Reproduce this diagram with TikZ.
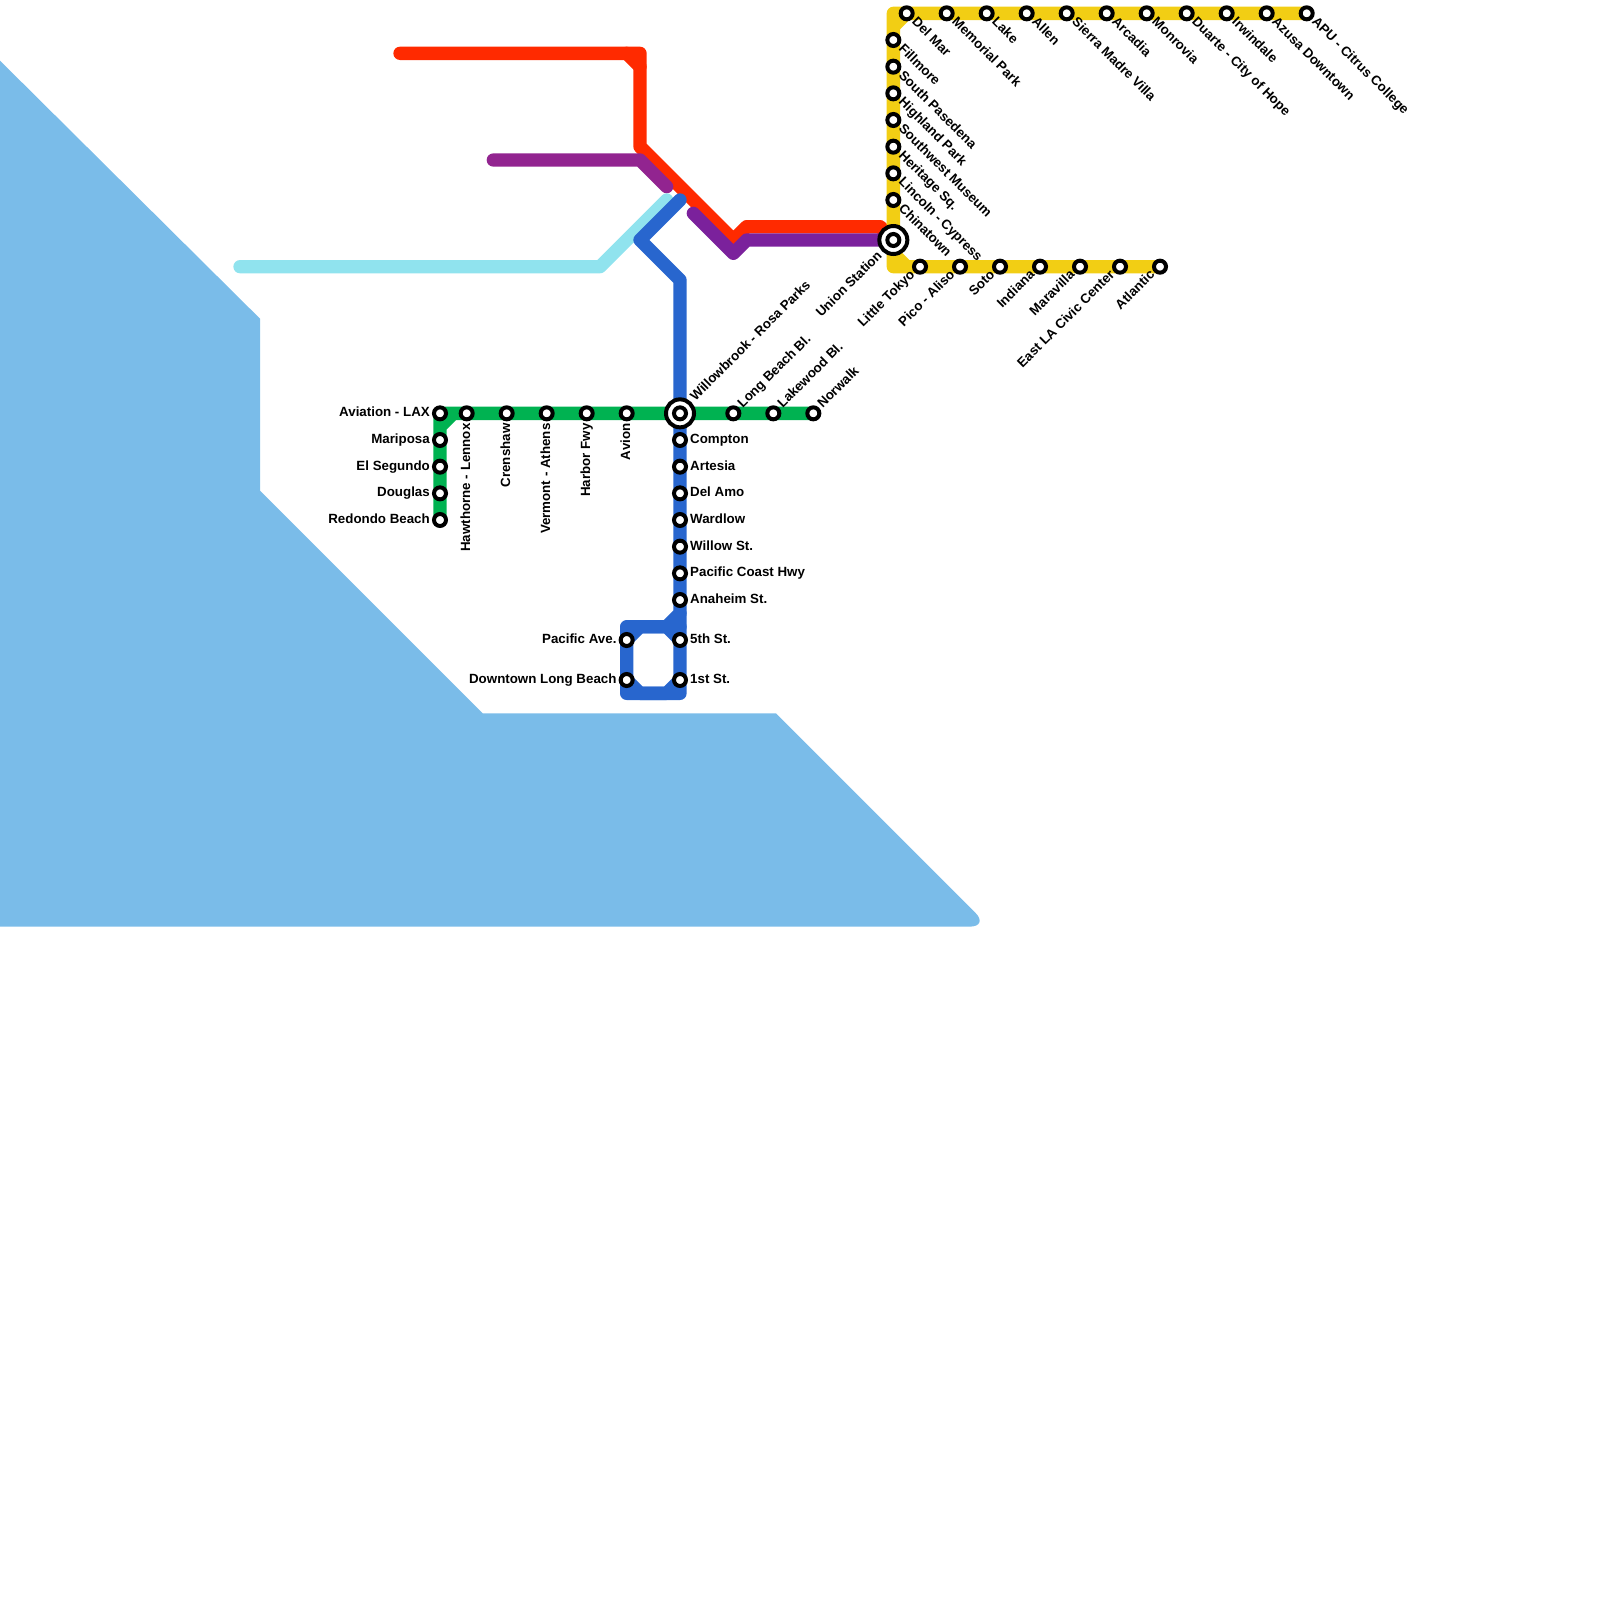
\documentclass[tikz,border=0pt]{standalone}
\usepackage{fontspec}
\setmainfont{Liberation Sans}
\usetikzlibrary{calc,positioning}
\definecolor{water}{HTML}{7ABCE9}
\definecolor{lineRed}{HTML}{FF2A00}
\definecolor{linePurpleA}{HTML}{922490}
\definecolor{linePurpleB}{HTML}{7B219C}
\definecolor{lineCyan}{HTML}{90E3EE}
\definecolor{lineBlue}{HTML}{2866CE}
\definecolor{lineGreen}{HTML}{00B251}
\definecolor{lineYellow}{HTML}{F2CE14}
\tikzset{
  metro/.style={line width=13.33pt,line join=round,line cap=round},
  stn/.style={circle,draw=black,fill=white,line width=4pt,minimum size=12pt,inner sep=0pt},
  hub/.style={circle,draw=black,fill=white,line width=4pt,minimum size=28pt,inner sep=0pt},
  lab/.style={font=\fontsize{13.33}{13.33}\selectfont\bfseries,inner sep=0pt,text=black,text height=9.6pt,text depth=2.8pt}
}
\begin{document}
\begin{tikzpicture}[x=13.3333pt,y=-13.3333pt]
\useasboundingbox (0,0) rectangle (120,120);
% --- water
\fill[water] (0,4.55) -- (19.5,23.9) -- (19.5,36.8) -- (36.2,53.5) -- (58.2,53.5) [rounded corners=20pt] -- (74.2,69.5) [sharp corners] -- (0,69.5) -- cycle;
% --- lines
\draw[metro,lineRed] (30,4) -- (48,4) -- (48,11) -- (55,18) -- (56,17) -- (66,17) -- (67,18);
\draw[metro,lineRed] (47,4) -- (48,5);
\draw[metro,linePurpleA] (37,12) -- (48,12) -- (50,14);
\draw[metro,linePurpleB] (52,16) -- (55,19) -- (56,18) -- (67,18);
\draw[metro,lineCyan] (18,20) -- (45,20) -- (50,15);
\draw[metro,lineBlue] (51,15) -- (48,18) -- (51,21) -- (51,46) -- (50,47) -- (47,47) -- (47,52) -- (51,52) -- (51,47);
\draw[metro,lineBlue] (47,48) -- (48,47) -- (50,47) -- (51,48) (47,51) -- (48,52) -- (50,52) -- (51,51) (51,46) -- (51,47);
\draw[metro,lineGreen] (61,31) -- (33,31) -- (33,39) (33,32) -- (34,31);
\draw[metro,lineYellow] (98,1) -- (67,1) -- (67,20) -- (87,20) (67,2) -- (68,1) (67,19) -- (68,20);
% --- stations
\foreach \x/\t in {68/Del Mar,71/Memorial Park,74/Lake,77/Allen,80/Sierra Madre Villa,83/Arcadia,86/Monrovia,89/Duarte - City of Hope,92/Irwindale,95/Azusa Downtown,98/APU - Citrus College} {
  \node[stn] (gold\x) at (\x,1) {};
  \node[lab,rotate=-45,anchor=west] (goldlab\x) at ($(gold\x)+(7pt,-7pt)$) {\t};
}
\foreach \y/\t in {3/Fillmore,5/South Pasedena,7/Highland Park,9/Southwest Museum,11/Heritage Sq.,13/Lincoln - Cypress,15/Chinatown} {
  \node[stn] (north\y) at (67,\y) {};
  \node[lab,rotate=-45,anchor=west] (northlab\y) at ($(north\y)+(7pt,-7pt)$) {\t};
}
\foreach \x/\t in {69/Little Tokyo,72/Pico - Aliso,75/Soto,78/Indiana,81/Maravilla,84/East LA Civic Center,87/Atlantic} {
  \node[stn] (east\x) at (\x,20) {};
  \node[lab,rotate=45,anchor=east] (eastlab\x) at ($(east\x)+(-7pt,-6.5pt)$) {\t};
}
\foreach \x/\t in {55/Long Beach Bl.,58/Lakewood Bl.,61/Norwalk} {
  \node[stn] (expo\x) at (\x,31) {};
  \node[lab,rotate=45,anchor=west] (expolab\x) at ($(expo\x)+(7pt,7pt)$) {\t};
}
\foreach \x/\t in {35/Hawthorne - Lennox,38/Crenshaw,41/Vermont - Athens,44/Harbor Fwy,47/Avion} {
  \node[stn] (west\x) at (\x,31) {};
  \node[lab,rotate=90,anchor=east] (westlab\x) at ($(west\x)+(0pt,-10pt)$) {\t};
}
\foreach \y/\t in {31/Aviation - LAX,33/Mariposa,35/El Segundo,37/Douglas,39/Redondo Beach} {
  \node[stn] (south\y) at (33,\y) {};
  \node[lab,anchor=east] (southlab\y) at ($(south\y)+(-10pt,0pt)$) {\t};
}
\foreach \y/\t in {33/Compton,35/Artesia,37/Del Amo,39/Wardlow,41/Willow St.,43/Pacific Coast Hwy,45/Anaheim St.,48/5th St.,51/1st St.} {
  \node[stn] (blue\y) at (51,\y) {};
  \node[lab,anchor=west] (bluelab\y) at ($(blue\y)+(10pt,0pt)$) {\t};
}
\node[stn] (pacific) at (47,48) {};
\node[lab,anchor=east] (pacificlab) at ($(pacific)+(-10pt,0pt)$) {Pacific Ave.};
\node[stn] (downtown) at (47,51) {};
\node[lab,anchor=east] (downtownlab) at ($(downtown)+(-10pt,0pt)$) {Downtown Long Beach};
% --- transfers
\node[hub] (willow) at (51,31) {};
\node[stn] (willowin) at (51,31) {};
\node[lab,rotate=45,anchor=west] (willowlab) at ($(willow)+(13pt,14pt)$) {Willowbrook - Rosa Parks};
\node[hub] (union) at (67,18) {};
\node[stn] (unionin) at (67,18) {};
\node[lab,rotate=45,anchor=east] (unionlab) at ($(union)+(-13pt,-14pt)$) {Union Station};
\end{tikzpicture}
\end{document}
